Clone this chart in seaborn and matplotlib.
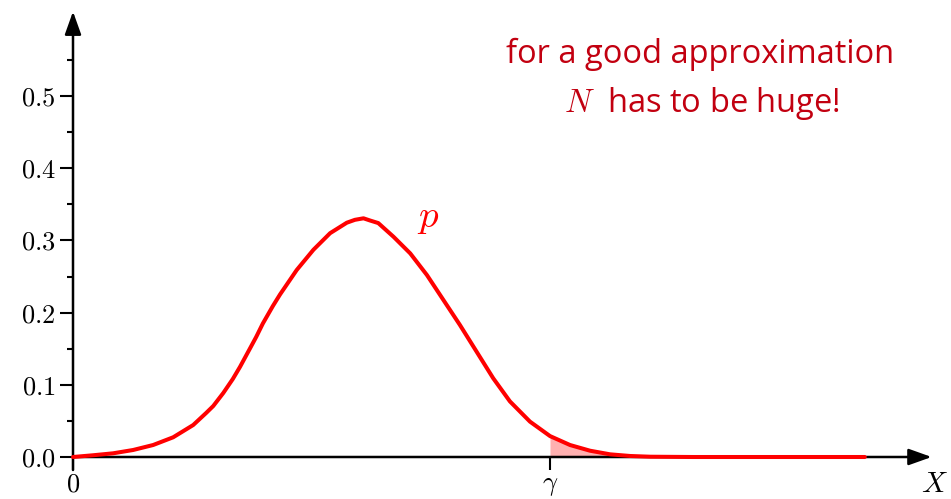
import matplotlib
matplotlib.use("Agg")
import matplotlib.pyplot as plt
import seaborn as sns
import pandas as pd

# ---- data ----
x_vals = [0.0, 0.42, 0.84, 1.26, 1.68, 2.10, 2.52, 2.79, 2.94, 3.15, 3.35, 3.50,
          3.71, 3.84, 3.98, 4.19, 4.34, 4.69, 5.04, 5.39, 5.74, 5.91, 6.09, 6.23,
          6.40, 6.72, 7.07, 7.42, 7.76, 8.11, 8.46, 8.81, 9.16, 9.58, 10.0, 10.42,
          10.84, 11.26, 11.68, 12.10, 13.0, 14.5, 16.6]
p_vals = [0.0, 0.0024, 0.0051, 0.0097, 0.0166, 0.0273, 0.0443, 0.0609, 0.0706, 0.0886,
          0.108, 0.1247, 0.1503, 0.1662, 0.1849, 0.2091, 0.2251, 0.259, 0.287, 0.310,
          0.3245, 0.3285, 0.3306, 0.3275, 0.3240, 0.305, 0.282, 0.252, 0.218, 0.183,
          0.146, 0.109, 0.077, 0.049, 0.029, 0.0166, 0.0087, 0.0037, 0.0014, 0.0004,
          0.0, 0.0, 0.0]
gamma = 10.0
y_major = [0.0, 0.1, 0.2, 0.3, 0.4, 0.5]
y_major_labels = ["$0.0$", "$0.1$", "$0.2$", "$0.3$", "$0.4$", "$0.5$"]
y_minor = [0.05, 0.15, 0.25, 0.35, 0.45, 0.55]
x_ticks = [0.0, gamma]
x_tick_labels = ["$0$", r"$\gamma$"]

df = pd.DataFrame({"x": x_vals, "p": p_vals})

sns.set_theme(style="white")
plt.rcParams["mathtext.fontset"] = "cm"
plt.rcParams["font.family"] = ["Open Sans", "DejaVu Sans"]

W, H = 951, 499
fig = plt.figure(figsize=(W / 100, H / 100), dpi=100)
x0px, y0px = 73, 457
ppu_x = 47.7
ppu_y = 722.0
xmax, ymax = 18.0, 0.617
ax = fig.add_axes([x0px / W, (H - y0px) / H, xmax * ppu_x / W, ymax * ppu_y / H])
ax.set_xlim(0, xmax)
ax.set_ylim(0, ymax)
for s in ax.spines.values():
    s.set_visible(False)

# axes arrows
ax.annotate("", xy=(xmax, 0), xytext=(0, 0), xycoords="data",
            arrowprops=dict(arrowstyle="-|>,head_length=0.7,head_width=0.25",
                            color="black", lw=1.8, mutation_scale=20,
                            shrinkA=0, shrinkB=0), annotation_clip=False)
ax.annotate("", xy=(0, ymax), xytext=(0, -0.018), xycoords="data",
            arrowprops=dict(arrowstyle="-|>,head_length=0.7,head_width=0.25",
                            color="black", lw=1.8, mutation_scale=20,
                            shrinkA=0, shrinkB=0), annotation_clip=False)

# shaded tail
tail = df[df["x"] >= gamma]
ax.fill_between(tail["x"], 0, tail["p"], color="#ff9c9c", alpha=0.8, lw=0, zorder=2)

sns.lineplot(data=df, x="x", y="p", ax=ax, color="#ff0000", lw=2.9,
             sort=False, estimator=None, zorder=3, clip_on=False)

ax.set_yticks(y_major)
ax.set_yticklabels(y_major_labels)
ax.set_yticks(y_minor, minor=True)
ax.set_xticks(x_ticks)
ax.set_xticklabels(x_tick_labels)
ax.tick_params(axis="y", which="major", direction="out", length=9.5, width=1.5,
               labelsize=19, pad=3, left=True, color="black", labelcolor="black")
ax.tick_params(axis="y", which="minor", direction="out", length=4.5, width=1.5,
               left=True, color="black")
ax.tick_params(axis="x", which="major", direction="out", length=9.5, width=1.5,
               labelsize=19, pad=2, bottom=True, color="black", labelcolor="black")
ax.set_xlabel("")
ax.set_ylabel("")
ax.grid(False)

# labels
fig.text(934 / W, 1 - 485 / H, "$X$", fontsize=21, ha="center", va="center", color="black")
ax.text(7.44, 0.333, "$p$", fontsize=28, color="#ff0000", ha="center", va="center")
txtcol = "#c20010"
fig.text(700 / W, 1 - 63 / H, "for a good approximation", fontsize=23.5, color=txtcol,
         ha="center", va="baseline")
fig.text(702 / W, 1 - 112 / H, "$N$  has to be huge!", fontsize=23.5, color=txtcol,
         ha="center", va="baseline")

fig.savefig("out.png", dpi=100)
